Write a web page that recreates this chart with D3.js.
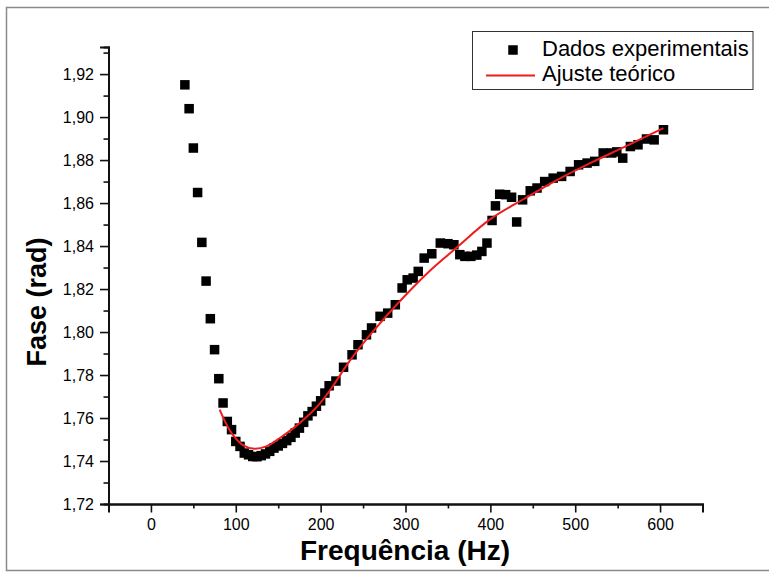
<!DOCTYPE html>
<html>
<head>
<meta charset="utf-8">
<script src="https://cdn.jsdelivr.net/npm/d3@7"></script>
<style>
  html, body { margin: 0; padding: 0; background: #fff; }
  svg { display: block; }
  text { font-family: "Liberation Sans", Arial, sans-serif; fill: #000; }
</style>
</head>
<body>
<svg id="chart" width="769" height="572"></svg>
<script>
// Experimental phase measurements (Hz, rad)
const freq = [40,45,50,55,60,65,70,75,80,85,90,95,100,105,110,115,120,125,130,135,140,145,150,155,160,165,170,175,180,185,190,195,200,205,210,
  218,227,237,244,254,260,270,279,288,296,302,309,315,322,331,341,350,357,364,370,377,384,390,396,402,406,411,418,425,431,438,447,455,464,474,484,494,504,514,523,533,543,549,556,565,574,584,593,604];
const phase = [1.9150,1.9039,1.8856,1.8649,1.8417,1.8237,1.8062,1.7918,1.7783,1.7670,1.7584,1.7546,1.7491,1.7468,1.7437,1.7429,1.7421,1.7420,1.7425,1.7433,1.7445,1.7460,1.7470,1.7482,1.7495,1.7510,1.7530,1.7553,1.7580,1.7610,1.7630,1.7655,1.7680,1.7716,1.7750,
  1.7772,1.7836,1.7894,1.7941,1.7987,1.8019,1.8073,1.8088,1.8127,1.8205,1.8243,1.8251,1.8282,1.8344,1.8364,1.8414,1.8411,1.8406,1.8360,1.8352,1.8352,1.8358,1.8375,1.8414,1.8519,1.8587,1.8641,1.8639,1.8627,1.8512,1.8615,1.8657,1.8670,1.8700,1.8716,1.8724,1.8747,1.8778,1.8786,1.8794,1.8833,1.8833,1.8838,1.8809,1.8863,1.8871,1.8898,1.8894,1.8941];

// Theoretical fit curve
const fitFreq = [81,95,110,122,136,152,168,184,200,215,234,260,293,326,360,400,440,480,520,560,604];
const fitPhase = [1.7639,1.7530,1.7470,1.7457,1.7468,1.7507,1.7553,1.7607,1.7672,1.7752,1.7865,1.7995,1.8142,1.8275,1.8392,1.8525,1.8620,1.8710,1.8790,1.8865,1.8949];

// Axis ticks
const xTicksMajor = [0,100,200,300,400,500,600];
const xTicksMinor = [-50,50,150,250,350,450,550,650];
const yTicksMajor = [1.72,1.74,1.76,1.78,1.80,1.82,1.84,1.86,1.88,1.90,1.92];
const yTicksMinor = [1.73,1.75,1.77,1.79,1.81,1.83,1.85,1.87,1.89,1.91,1.93];

const legendLabels = ["Dados experimentais", "Ajuste teórico"];
const xTitle = "Frequência (Hz)";
const yTitle = "Fase (rad)";

const svg = d3.select("#chart");

const x = d3.scaleLinear().domain([-50, 650]).range([108.5, 702.5]);
const y = d3.scaleLinear().domain([1.72, 1.9326]).range([504, 47]);

// outer frame
svg.append("path")
  .attr("d", "M775,7.5 H6.5 V570.5 H775")
  .attr("fill", "none")
  .attr("stroke", "#8a8a8a")
  .attr("stroke-width", 1.5);

const fmt = v => d3.format(".2f")(v).replace(".", ",");

// minor ticks
const gx = svg.append("g").attr("transform", `translate(0,${y(1.72)})`);
gx.call(d3.axisBottom(x).tickValues(xTicksMinor).tickSize(4.5).tickFormat(""));
const gxM = svg.append("g").attr("transform", `translate(0,${y(1.72)})`);
gxM.call(d3.axisBottom(x).tickValues(xTicksMajor).tickSize(8.5).tickPadding(6).tickFormat(d3.format("d")));

const gy = svg.append("g").attr("transform", `translate(${x(-50)},0)`);
gy.call(d3.axisLeft(y).tickValues(yTicksMinor).tickSize(5).tickFormat(""));
const gyM = svg.append("g").attr("transform", `translate(${x(-50)},0)`);
gyM.call(d3.axisLeft(y).tickValues(yTicksMajor).tickSize(8.5).tickPadding(6).tickFormat(fmt));

svg.selectAll(".domain").attr("stroke", "#111").attr("stroke-width", 2);
svg.selectAll(".tick line").attr("stroke", "#111").attr("stroke-width", 1.6);
svg.selectAll(".tick text").style("font-family", "Liberation Sans, Arial, sans-serif").style("font-size", "16px").attr("fill", "#000");

// data markers
const ms = 9.5;
svg.append("g").selectAll("rect")
  .data(freq.map((f, i) => [f, phase[i]]))
  .join("rect")
  .attr("x", d => x(d[0]) - ms / 2)
  .attr("y", d => y(d[1]) - ms / 2)
  .attr("width", ms)
  .attr("height", ms)
  .attr("fill", "#000");

// fit curve
const line = d3.line()
  .x(d => x(d[0]))
  .y(d => y(d[1]))
  .curve(d3.curveCatmullRom.alpha(0.5));
svg.append("path")
  .datum(fitFreq.map((f, i) => [f, fitPhase[i]]))
  .attr("d", line)
  .attr("fill", "none")
  .attr("stroke", "#ee1c1c")
  .attr("stroke-width", 2);

// axis titles
svg.append("text")
  .attr("x", 405)
  .attr("y", 560)
  .attr("text-anchor", "middle")
  .style("font-weight", "bold")
  .style("font-size", "28px")
  .text(xTitle);
svg.append("text")
  .attr("transform", "translate(46,302) rotate(-90)")
  .attr("text-anchor", "middle")
  .style("font-weight", "bold")
  .style("font-size", "27px")
  .text(yTitle);

// legend
const lg = svg.append("g");
lg.append("rect")
  .attr("x", 472.5).attr("y", 31.5)
  .attr("width", 280.5).attr("height", 58)
  .attr("fill", "#fff")
  .attr("stroke", "#333")
  .attr("stroke-width", 1);
lg.append("rect")
  .attr("x", 513 - ms / 2).attr("y", 50 - ms / 2)
  .attr("width", ms).attr("height", ms)
  .attr("fill", "#000");
lg.append("line")
  .attr("x1", 486).attr("x2", 535)
  .attr("y1", 75.5).attr("y2", 75.5)
  .attr("stroke", "#ee1c1c").attr("stroke-width", 2);
lg.append("text").attr("x", 542).attr("y", 56).style("font-size", "22px").text(legendLabels[0]);
lg.append("text").attr("x", 542).attr("y", 81).style("font-size", "22px").text(legendLabels[1]);
</script>
</body>
</html>
